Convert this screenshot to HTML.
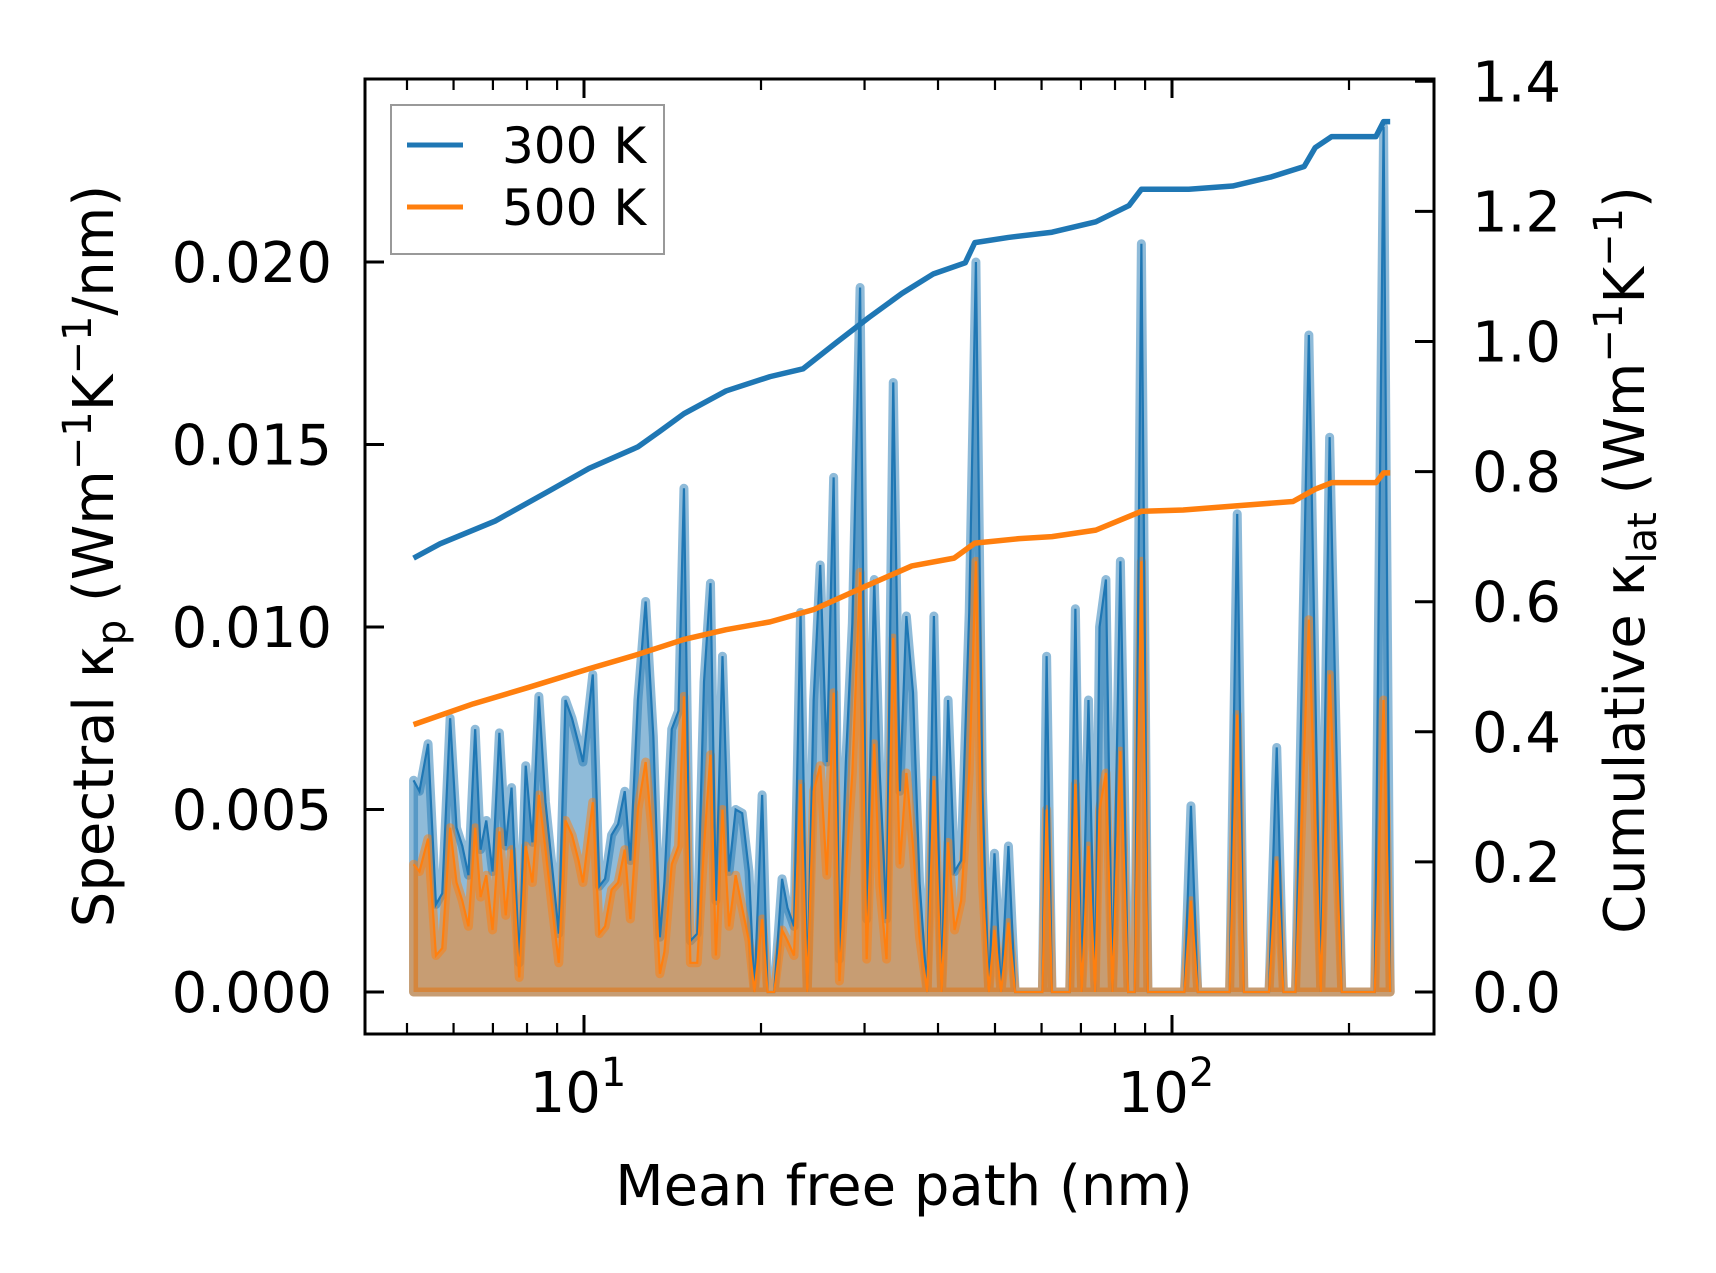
<!DOCTYPE html>
<html><head><meta charset="utf-8">
<style>
html,body{margin:0;padding:0;background:#fff;}
svg{display:block;font-family:"DejaVu Sans","Liberation Sans",sans-serif;}
</style></head>
<body>
<svg id="chart" width="1716" height="1273" viewBox="0 0 1716 1273" xmlns="http://www.w3.org/2000/svg">
<rect x="0" y="0" width="1716" height="1273" fill="#fff"/>
<g id="marks"></g>
<g id="axes"></g>
</svg>
<script>
// Spectral data (mean free path in nm, spectral kappa)
const mfp = [5.13,5.25,5.43,5.60,5.74,5.92,6.07,6.21,6.36,6.53,6.67,6.82,6.99,7.18,7.36,7.53,7.76,7.96,8.17,8.38,8.60,8.83,9.06,9.30,9.54,9.79,9.96,10.35,10.62,10.86,11.14,11.43,11.73,11.99,12.35,12.73,13.12,13.46,13.70,14.10,14.48,14.79,15.17,15.58,16.00,16.41,16.76,17.20,17.65,18.11,18.58,19.08,19.49,20.09,20.52,21.06,21.72,22.19,22.76,23.35,23.97,24.58,25.22,25.88,26.58,27.19,27.88,28.60,29.48,30.25,31.16,31.84,32.70,33.57,34.45,35.34,36.27,37.21,38.34,39.36,40.57,41.61,42.68,43.79,45.2,46.4,47.6,48.8,49.9,51.2,52.7,54.1,60.2,61.2,62.5,67.0,68.5,70.2,72.1,74.0,75.3,77.2,79.2,81.7,84.2,86.4,88.7,91.0,105.0,107.7,110.6,125.3,129.1,132.5,146.2,150.7,154.7,162.2,170.9,179.1,185.4,194.4,221.2,229.0,235.0];
const spec300 = [0.0058,0.0055,0.0068,0.0024,0.0027,0.0075,0.0045,0.0040,0.0032,0.0072,0.0039,0.0047,0.0033,0.0071,0.0040,0.0056,0.0008,0.0062,0.0041,0.0081,0.0052,0.0034,0.0016,0.0080,0.0075,0.0068,0.0063,0.0087,0.0029,0.0031,0.0043,0.0046,0.0055,0.0036,0.0080,0.0107,0.0070,0.0015,0.0030,0.0072,0.0077,0.0138,0.0014,0.0016,0.0085,0.0112,0.0025,0.0092,0.0033,0.0050,0.0049,0.0033,0.0000,0.0054,0.0000,0.0000,0.0031,0.0023,0.0018,0.0104,0.0000,0.0080,0.0117,0.0063,0.0141,0.0009,0.0063,0.0101,0.0193,0.0020,0.0113,0.0060,0.0020,0.0167,0.0055,0.0103,0.0082,0.0030,0.0000,0.0103,0.0000,0.0080,0.0033,0.0036,0.0104,0.0200,0.0055,0.0000,0.0038,0.0000,0.0040,0.0000,0.0000,0.0092,0.0000,0.0000,0.0105,0.0000,0.0080,0.0000,0.0100,0.0113,0.0000,0.0118,0.0000,0.0000,0.0205,0.0000,0.0000,0.0051,0.0000,0.0000,0.0131,0.0000,0.0000,0.0067,0.0000,0.0000,0.0180,0.0000,0.0152,0.0000,0.0000,0.0237,0.0000];
const spec500 = [0.0035,0.0033,0.0042,0.0010,0.0012,0.0045,0.0030,0.0025,0.0018,0.0045,0.0026,0.0032,0.0017,0.0044,0.0021,0.0039,0.0004,0.0040,0.0030,0.0054,0.0039,0.0023,0.0008,0.0047,0.0043,0.0036,0.0030,0.0052,0.0016,0.0018,0.0028,0.0030,0.0039,0.0020,0.0050,0.0063,0.0040,0.0005,0.0011,0.0035,0.0040,0.0081,0.0008,0.0008,0.0040,0.0065,0.0010,0.0050,0.0018,0.0032,0.0023,0.0014,0.0000,0.0020,0.0000,0.0000,0.0017,0.0014,0.0010,0.0057,0.0000,0.0055,0.0062,0.0032,0.0082,0.0003,0.0033,0.0060,0.0115,0.0009,0.0068,0.0029,0.0009,0.0097,0.0035,0.0060,0.0040,0.0015,0.0000,0.0058,0.0000,0.0041,0.0017,0.0025,0.0060,0.0118,0.0030,0.0000,0.0017,0.0000,0.0019,0.0000,0.0000,0.0050,0.0000,0.0000,0.0057,0.0000,0.0040,0.0000,0.0050,0.0060,0.0000,0.0066,0.0000,0.0000,0.0118,0.0000,0.0000,0.0025,0.0000,0.0000,0.0076,0.0000,0.0000,0.0036,0.0000,0.0000,0.0102,0.0000,0.0087,0.0000,0.0000,0.0080,0.0000];
// Cumulative data
const cumMfp300 = [5.13,5.69,7.06,8.75,10.2,12.35,13.46,14.79,17.44,20.72,23.58,26.83,30.52,34.74,39.3,44.5,46.2,52.7,62.5,74.2,84.5,88.7,106.8,126.8,147.5,167.8,175.2,186.9,222.2,229.0,235.0];
const cum300 = [0.667,0.689,0.724,0.771,0.805,0.838,0.862,0.889,0.924,0.946,0.958,0.998,1.037,1.074,1.104,1.121,1.152,1.160,1.168,1.184,1.209,1.234,1.234,1.239,1.253,1.269,1.298,1.315,1.315,1.338,1.338];
const cumMfp500 = [5.13,6.48,8.03,10.2,12.35,14.79,17.44,20.72,24.6,30.52,36.1,42.6,46.2,55.0,62.5,74.2,88.7,104.5,126.8,160.6,175.2,186.9,222.2,229.0,235.0];
const cum500 = [0.411,0.443,0.468,0.497,0.519,0.542,0.557,0.569,0.588,0.626,0.655,0.667,0.690,0.697,0.700,0.710,0.739,0.741,0.747,0.754,0.773,0.783,0.783,0.798,0.798];
const leftTicks = [0,0.005,0.010,0.015,0.020];
const leftTickLabels = ["0.000","0.005","0.010","0.015","0.020"];
const rightTicks = [0,0.2,0.4,0.6,0.8,1.0,1.2,1.4];
const rightTickLabels = ["0.0","0.2","0.4","0.6","0.8","1.0","1.2","1.4"];
const xMajor = [10,100];
const xMajorExp = ["1","2"];
const xMinor = [5,6,7,8,9,20,30,40,50,60,70,80,90,200];

const L=365,R=1434,T=79,B=1034;
const X = m => 584 + (Math.log10(m)-1)*588;
const YL = v => 992 - v/0.005*182.5;
const YR = v => 992 - v/0.2*130.1;
const NS="http://www.w3.org/2000/svg";
const marks=document.getElementById('marks'), axes=document.getElementById('axes');
function mk(tag, attrs, parent){const e=document.createElementNS(NS,tag);for(const k in attrs)e.setAttribute(k,attrs[k]);parent.appendChild(e);return e;}

function fillPts(ys){let s=X(mfp[0])+','+YL(0)+' ';for(let i=0;i<mfp.length;i++)s+=X(mfp[i])+','+YL(ys[i])+' ';s+=X(mfp[mfp.length-1])+','+YL(0);return s;}
function linePts(xs,ys,f){return xs.map((m,i)=>X(m)+','+f(ys[i])).join(' ');}

const f3=mk('polygon',{points:fillPts(spec300),fill:'rgba(31,119,180,0.5)',stroke:'rgba(31,119,180,0.5)','stroke-width':9,'stroke-linejoin':'round'},marks);


const f5=mk('polygon',{points:fillPts(spec500),fill:'rgba(255,127,14,0.5)',stroke:'rgba(255,127,14,0.5)','stroke-width':9,'stroke-linejoin':'round'},marks);


const l3=mk('polyline',{points:linePts(mfp,spec300,YL),fill:'none',stroke:'#1f77b4','stroke-width':2.2},marks);


const l5=mk('polyline',{points:linePts(mfp,spec500,YL),fill:'none',stroke:'#ff7f0e','stroke-width':2.2},marks);


const c3=mk('polyline',{points:linePts(cumMfp300,cum300,YR),fill:'none',stroke:'#1f77b4','stroke-width':5.5,'stroke-linejoin':'round'},marks);


const c5=mk('polyline',{points:linePts(cumMfp500,cum500,YR),fill:'none',stroke:'#ff7f0e','stroke-width':5.5,'stroke-linejoin':'round'},marks);



const fr=mk('rect',{x:L,y:T,width:R-L,height:B-T,fill:'none',stroke:'#000','stroke-width':3},axes);



leftTicks.forEach((v,i)=>{
  const y=YL(v);
  const t=mk('line',{x1:L,x2:L+19,y1:y,y2:y,stroke:'#000','stroke-width':3},axes);
  
  
  const tx=mk('text',{x:332,y:y+20,'text-anchor':'end','font-size':56},axes);
  tx.textContent=leftTickLabels[i];
  
  
});
rightTicks.forEach((v,i)=>{
  const y=YR(v);
  const t=mk('line',{x1:R-19,x2:R,y1:y,y2:y,stroke:'#000','stroke-width':3},axes);
  
  
  const tx=mk('text',{x:1472,y:y+20,'text-anchor':'start','font-size':56},axes);
  tx.textContent=rightTickLabels[i];
  
  
});
xMajor.forEach((m,i)=>{
  const x=X(m);
  [[B,B-19],[T,T+19]].forEach(p=>{
    const t=mk('line',{x1:x,x2:x,y1:p[0],y2:p[1],stroke:'#000','stroke-width':3},axes);
    
    
  });
  const tx=mk('text',{x:x-6,y:1112,'text-anchor':'middle','font-size':56},axes);
  
  
  tx.appendChild(document.createTextNode('10'));
  const sp=mk('tspan',{'font-size':40,dy:-26},tx);
  sp.textContent=xMajorExp[i];
});
xMinor.forEach(m=>{
  const x=X(m);
  [[B,B-11],[T,T+11]].forEach(p=>{
    const t=mk('line',{x1:x,x2:x,y1:p[0],y2:p[1],stroke:'#000','stroke-width':2.2},axes);
    
    
  });
});
</script>
<svg style="position:absolute;left:0;top:0" width="1716" height="1273" viewBox="0 0 1716 1273" xmlns="http://www.w3.org/2000/svg">
<g font-family="DejaVu Sans, Liberation Sans, sans-serif" font-size="56">
<text x="904" y="1205" text-anchor="middle">Mean free path (nm)</text>
<text transform="translate(113,556) rotate(-90)" text-anchor="middle">Spectral κ<tspan font-size="40" dy="12">p</tspan><tspan dy="-12"> (Wm</tspan><tspan font-size="40" dy="-22">−1</tspan><tspan dy="22">K</tspan><tspan font-size="40" dy="-22">−1</tspan><tspan dy="22">/nm)</tspan></text>
<text transform="translate(1644,560) rotate(-90)" text-anchor="middle">Cumulative κ<tspan font-size="40" dy="12">lat</tspan><tspan dy="-12"> (Wm</tspan><tspan font-size="40" dy="-22">−1</tspan><tspan dy="22">K</tspan><tspan font-size="40" dy="-22">−1</tspan><tspan dy="22">)</tspan></text>
</g>
<g>
<rect x="391" y="105" width="273" height="149" fill="rgba(255,255,255,0.8)" stroke="#999" stroke-width="2"/>
<line x1="407" y1="145" x2="463" y2="145" stroke="#1f77b4" stroke-width="5"/>
<line x1="407" y1="207" x2="463" y2="207" stroke="#ff7f0e" stroke-width="5"/>
<text x="502" y="163" font-size="50" font-family="DejaVu Sans, Liberation Sans, sans-serif">300 K</text>
<text x="502" y="225" font-size="50" font-family="DejaVu Sans, Liberation Sans, sans-serif">500 K</text>
</g>
</svg>
</body></html>
